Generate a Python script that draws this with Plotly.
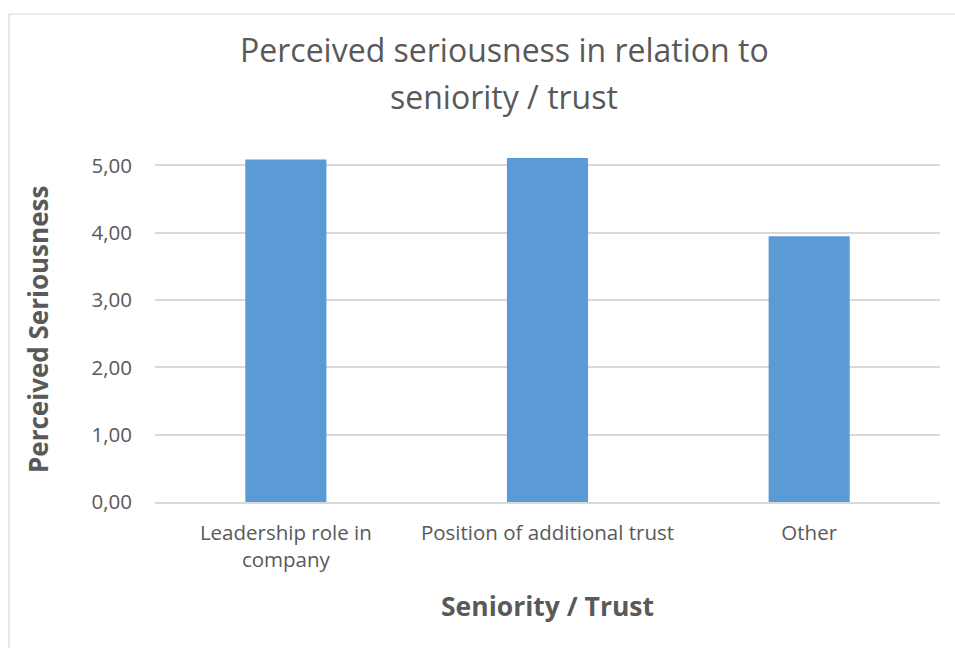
import plotly.graph_objects as go

categories = ["Leadership role in company", "Position of additional trust", "Other"]
tick_labels = ["Leadership role in<br>company", "Position of additional trust", "Other"]
values = [5.09, 5.11, 3.95]
y_ticks = [0, 1, 2, 3, 4, 5]
y_tick_labels = ["0,00", "1,00", "2,00", "3,00", "4,00", "5,00"]

W, H = 955, 648
L, R, T, B = 155, 15, 152, 146
PW, PH = W - L - R, H - T - B

def px_x(x):  # screen pixel -> paper coord
    return (x - L) / PW

def px_y(y):
    return (H - B - y) / PH

FONT = "Open Sans"
GRAY = "#595959"
BORDER = "#d9d9d9"

fig = go.Figure()
fig.add_trace(go.Bar(
    x=categories, y=values,
    marker=dict(color="#5b9bd5", line=dict(width=0)),
    width=0.31,
))

fig.update_layout(
    width=W, height=H,
    margin=dict(l=L, r=R, t=T, b=B),
    paper_bgcolor="white", plot_bgcolor="white",
    showlegend=False,
    font=dict(family=FONT, color=GRAY),
    xaxis=dict(
        tickmode="array", tickvals=categories, ticktext=tick_labels,
        tickfont=dict(size=20.5, color=GRAY, family=FONT),
        showgrid=False, showline=True, linecolor=BORDER, linewidth=1.5,
        ticks="", ticklabelstandoff=12, range=[-0.5, 2.5],
    ),
    yaxis=dict(
        range=[0, 5.2], tickmode="array", tickvals=y_ticks, ticktext=y_tick_labels,
        tickfont=dict(size=20.5, color=GRAY, family=FONT),
        showgrid=True, gridcolor=BORDER, gridwidth=1.5,
        zeroline=False, showline=False, ticks="", ticklabelstandoff=22,
    ),
    shapes=[
        dict(type="line", xref="paper", yref="paper",
             x0=px_x(9), x1=px_x(9), y0=px_y(660), y1=px_y(14),
             line=dict(color=BORDER, width=1.2), layer="below"),
        dict(type="line", xref="paper", yref="paper",
             x0=px_x(9), x1=px_x(960), y0=px_y(14), y1=px_y(14),
             line=dict(color=BORDER, width=1.2), layer="below"),
    ],
    annotations=[
        dict(text="Perceived seriousness in relation to",
             xref="paper", yref="paper", x=px_x(504), y=px_y(49),
             xanchor="center", yanchor="middle", showarrow=False,
             font=dict(size=32, color=GRAY, family=FONT)),
        dict(text="seniority / trust",
             xref="paper", yref="paper", x=px_x(504), y=px_y(96),
             xanchor="center", yanchor="middle", showarrow=False,
             font=dict(size=32, color=GRAY, family=FONT)),
        dict(text="<b>Seniority / Trust</b>",
             xref="paper", yref="paper", x=px_x(547), y=px_y(606),
             xanchor="center", yanchor="middle", showarrow=False,
             font=dict(size=26.5, color=GRAY, family=FONT)),
        dict(text="<b>Perceived Seriousness</b>", textangle=-90,
             xref="paper", yref="paper", x=px_x(38), y=px_y(330),
             xanchor="center", yanchor="middle", showarrow=False,
             font=dict(size=26, color=GRAY, family=FONT)),
    ],
)

fig.write_html(
    "out.html",
    config={"displayModeBar": False},
    post_script="document.body.style.margin='0';document.body.style.overflow='hidden';",
)
